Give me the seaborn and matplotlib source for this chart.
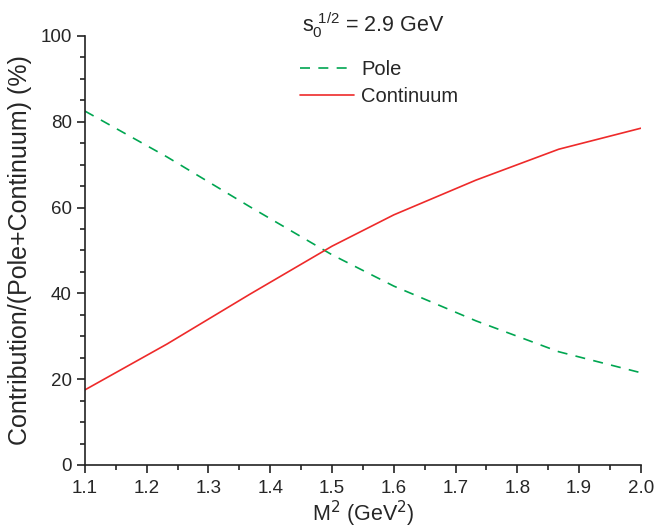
import seaborn as sns
import matplotlib
matplotlib.use('Agg')
import matplotlib.pyplot as plt
from matplotlib.ticker import MultipleLocator
import pandas as pd

# Borel parameter M^2 (GeV^2) and contributions (%)
m2 = [1.1, 1.233, 1.367, 1.5, 1.6, 1.733, 1.867, 2.0]
continuum = [17.5, 28.2, 39.8, 51.0, 58.3, 66.4, 73.6, 78.5]
pole = [100 - c for c in continuum]

df = pd.DataFrame({'M2': m2, 'Pole': pole, 'Continuum': continuum})

sns.set_style('ticks')
plt.rcParams['font.family'] = ['Liberation Sans', 'DejaVu Sans']

fig = plt.figure(figsize=(6.58, 5.29), dpi=100)
ax = fig.add_axes([0.129, 0.121, 0.845, 0.811])

sns.lineplot(data=df, x='M2', y='Pole', ax=ax, color='#00a651', lw=1.2,
             linestyle=(0, (6, 5)), label='Pole')
sns.lineplot(data=df, x='M2', y='Continuum', ax=ax, color='#ee2a2a', lw=1.2,
             label='Continuum')

ax.set_xlim(1.1, 2.0)
ax.set_ylim(0, 100)
ax.xaxis.set_major_locator(MultipleLocator(0.1))
ax.xaxis.set_minor_locator(MultipleLocator(0.05))
ax.yaxis.set_major_locator(MultipleLocator(20))
ax.yaxis.set_minor_locator(MultipleLocator(5))
ax.xaxis.set_major_formatter(matplotlib.ticker.FormatStrFormatter('%.1f'))
ax.tick_params(which='major', length=6, width=1.2, labelsize=13.5, color='#222222')
ax.tick_params(axis='x', which='major', pad=5)
ax.tick_params(which='minor', length=3.5, width=1.2, color='#222222')
for s in ['left', 'bottom']:
    ax.spines[s].set_linewidth(1.2)
    ax.spines[s].set_color('#222222')
sns.despine(ax=ax)

ax.set_xlabel(r'M$^2$ (GeV$^2$)', fontsize=15.5, labelpad=1)
ax.set_ylabel('Contribution/(Pole+Continuum) (%)', fontsize=18, labelpad=6)

ax.text(0.518, 1.025, r'$\mathregular{s_0^{\ 1/2}}$ = 2.9 GeV', transform=ax.transAxes,
        ha='center', va='center', fontsize=15.5)
ax.legend(loc='upper left', bbox_to_anchor=(0.372, 0.963), frameon=False,
          fontsize=14.5, handlelength=2.7, handletextpad=0.35, labelspacing=0.4,
          borderaxespad=0)

fig.savefig('out.png', dpi=100)
